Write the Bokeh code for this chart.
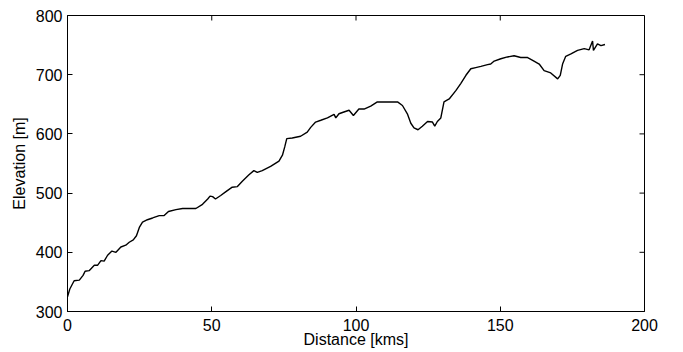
import math
from bokeh.plotting import figure
from bokeh.models import Range1d, FixedTicker
from bokeh.embed import file_html
from bokeh.resources import INLINE

# Distance [kms]
distance = [0.0, 0.8, 2.3, 4.1, 5.4, 6.1, 7.5, 9.3, 10.4, 11.6, 12.7, 13.9, 15.4, 16.8,
            18.5, 20.2, 21.4, 22.8, 23.9, 24.9, 26.0, 27.7, 29.5, 31.8, 33.5, 35.0, 37.6,
            39.9, 44.5, 46.8, 48.6, 49.4, 50.3, 51.3, 53.1, 54.8, 57.1, 58.9, 60.6, 62.9,
            64.6, 65.8, 67.5, 70.4, 73.3, 74.5, 75.3, 76.0, 77.9, 80.8, 83.1, 84.3, 86.0,
            87.8, 90.1, 92.4, 93.0, 94.1, 95.8, 97.6, 99.1, 101.0, 102.8, 105.1, 107.4,
            114.4, 116.1, 117.8, 119.0, 120.1, 121.5, 123.0, 124.8, 126.5, 127.3, 128.2,
            129.4, 130.5, 132.3, 134.6, 136.3, 138.1, 139.8, 141.5, 143.3, 145.6, 146.7,
            147.9, 150.2, 152.5, 154.8, 157.1, 159.5, 161.7, 163.5, 165.2, 167.5, 169.9,
            170.8, 171.6, 172.7, 174.5, 176.8, 179.1, 180.8, 182.0, 182.3, 183.7, 184.9,
            186.3]
# Elevation [m]
elevation = [325, 338, 352, 353, 361, 368, 369, 378, 378, 386, 385, 395, 402, 400,
             409, 412, 417, 421, 428, 442, 451, 455, 458, 462, 462, 469, 472,
             474, 474, 481, 490, 495, 494, 490, 496, 502, 510, 511, 520, 531,
             538, 535, 538, 545, 554, 564, 578, 592, 593, 596, 603, 611, 620,
             623, 627, 633, 627, 634, 637, 640, 631, 642, 642, 647, 654,
             654, 648, 634, 618, 610, 607, 613, 621, 620, 613, 621,
             627, 654, 659, 673, 685, 699, 710, 712, 714, 717, 718,
             723, 727, 730, 732, 729, 729, 723, 718, 707, 703, 693,
             699, 718, 731, 735, 741, 744, 742, 757, 741, 752, 749,
             751]

x_ticks = [0, 50, 100, 150, 200]
y_ticks = [300, 400, 500, 600, 700, 800]
X_MIN, X_MAX = 0, 200
Y_MIN, Y_MAX = 300, 800

FONT = "Liberation Sans"
FS = "16px"

p = figure(width=683, height=352, output_backend="svg", toolbar_location=None,
           x_range=Range1d(X_MIN, X_MAX), y_range=Range1d(Y_MIN, Y_MAX),
           min_border_left=67, min_border_right=39, min_border_top=15, min_border_bottom=41)

p.line(distance, elevation, line_color="black", line_width=1.4)

# inward ticks on the top and right edges of the box
p.ray(x=x_ticks, y=[Y_MAX] * len(x_ticks), length=5, length_units="screen",
      angle=-math.pi / 2, line_color="black", line_width=1)
p.ray(x=[X_MAX] * len(y_ticks), y=y_ticks, length=5, length_units="screen",
      angle=math.pi, line_color="black", line_width=1)

p.xgrid.visible = False
p.ygrid.visible = False
p.outline_line_color = "black"
p.outline_line_width = 1
p.background_fill_color = "white"
p.border_fill_color = "white"

p.xaxis.axis_label = "Distance [kms]"
p.yaxis.axis_label = "Elevation [m]"
p.xaxis.ticker = FixedTicker(ticks=x_ticks)
p.yaxis.ticker = FixedTicker(ticks=y_ticks)

for ax in (p.xaxis[0], p.yaxis[0]):
    ax.major_tick_in = 5
    ax.major_tick_out = 0
    ax.minor_tick_line_color = None
    ax.axis_line_color = "black"
    ax.major_tick_line_color = "black"
    ax.major_label_text_font = FONT
    ax.major_label_text_font_size = FS
    ax.major_label_text_color = "black"
    ax.axis_label_text_font = FONT
    ax.axis_label_text_font_size = FS
    ax.axis_label_text_font_style = "normal"
    ax.axis_label_text_color = "black"

p.xaxis.major_label_standoff = 7
p.xaxis.axis_label_standoff = -3
p.yaxis.major_label_standoff = 5
p.yaxis.axis_label_standoff = 5

open("out.html", "w").write(file_html(p, INLINE))
